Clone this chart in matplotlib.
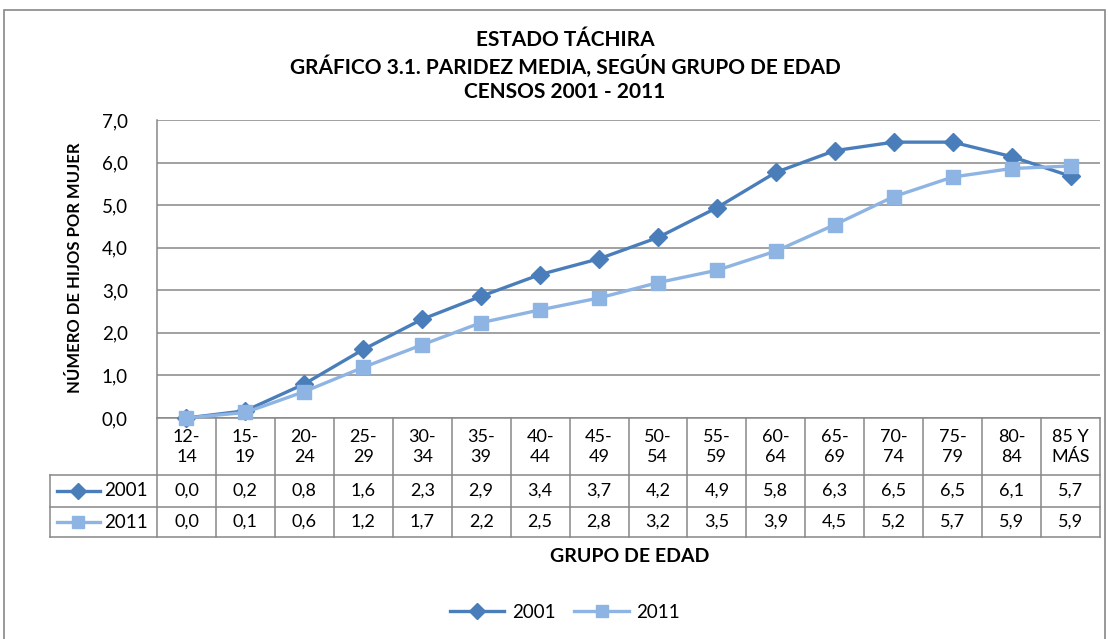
import numpy as np
import matplotlib
matplotlib.use("Agg")
import matplotlib.pyplot as plt
from matplotlib.lines import Line2D
from matplotlib.patches import Rectangle
from matplotlib.transforms import blended_transform_factory

plt.rcParams['font.family'] = ['Lato', 'DejaVu Sans']

grupos = ['12-\n14', '15-\n19', '20-\n24', '25-\n29', '30-\n34', '35-\n39', '40-\n44',
          '45-\n49', '50-\n54', '55-\n59', '60-\n64', '65-\n69', '70-\n74', '75-\n79',
          '80-\n84', '85 Y\nMÁS']
censo_2001 = [0.0, 0.17, 0.80, 1.61, 2.32, 2.86, 3.37, 3.74, 4.24, 4.94, 5.77, 6.28,
              6.48, 6.48, 6.14, 5.68]
censo_2011 = [0.0, 0.13, 0.62, 1.19, 1.72, 2.24, 2.54, 2.82, 3.18, 3.47, 3.92, 4.54,
              5.20, 5.66, 5.86, 5.92]
series = [('2001', censo_2001, '#4a7ebb', 'D', 9), ('2011', censo_2011, '#8eb4e3', 's', 9.5)]
y_ticks = [0, 1, 2, 3, 4, 5, 6, 7]

W, H = 1108, 639
grey = '#888888'


def fx(px):
    return px / W


def fy(py):
    return 1 - py / H


fig = plt.figure(figsize=(W / 100, H / 100), dpi=100)
fig.add_artist(Rectangle((fx(4), fy(645)), fx(1101), 635 / H, transform=fig.transFigure,
                         fill=False, edgecolor=grey, lw=1.2))

ax = fig.add_axes([fx(157), fy(418), fx(943), 298 / H])
x = np.arange(len(grupos))
for name, vals, col, mk, ms in series:
    ax.plot(x, vals, color=col, lw=2.4, marker=mk, markersize=ms, label=name,
            clip_on=False, zorder=3)

ax.set_xlim(-0.5, len(grupos) - 0.5)
ax.set_ylim(0, 7)
ax.set_yticks(y_ticks)
ax.set_yticklabels([('%.1f' % v).replace('.', ',') for v in y_ticks])
ax.tick_params(axis='y', length=0, pad=21, labelsize=13.5)
ax.set_xticks([])
ax.grid(axis='y', color=grey, lw=1.1)
ax.set_axisbelow(True)
for s in ['top', 'right']:
    ax.spines[s].set_visible(False)
for s in ['left', 'bottom']:
    ax.spines[s].set_color(grey)
    ax.spines[s].set_linewidth(1.1)

# tabla de datos bajo el eje
tr = blended_transform_factory(ax.transData, fig.transFigure)
rows_px = [418, 475, 507, 537]
for b in np.arange(len(grupos) + 1) - 0.5:
    fig.add_artist(Line2D([b, b], [fy(418), fy(537)], transform=tr, color=grey, lw=1.1))
for r in rows_px[1:]:
    fig.add_artist(Line2D([fx(50), fx(1100)], [fy(r), fy(r)], transform=fig.transFigure,
                          color=grey, lw=1.1))
fig.add_artist(Line2D([fx(50), fx(50)], [fy(475), fy(537)], transform=fig.transFigure,
                      color=grey, lw=1.1))

for i, g in enumerate(grupos):
    fig.text(i, fy(447), g, transform=tr, ha='center', va='center', fontsize=13,
             linespacing=1.3)

for k, (name, vals, col, mk, ms) in enumerate(series):
    yc = fy((rows_px[k + 1] + rows_px[k + 2]) / 2)
    for i, v in enumerate(vals):
        fig.text(i, yc, ('%.1f' % v).replace('.', ','), transform=tr, ha='center',
                 va='center', fontsize=13)
    fig.add_artist(Line2D([fx(57), fx(100)], [yc, yc], transform=fig.transFigure,
                          color=col, lw=2.4))
    fig.add_artist(Line2D([fx(78)], [yc], transform=fig.transFigure, color=col,
                          marker=mk, markersize=ms * 0.95, lw=0))
    fig.text(fx(104), yc, name, ha='left', va='center', fontsize=13.5)

for t, yy in [('ESTADO TÁCHIRA', 40), ('GRÁFICO 3.1. PARIDEZ MEDIA, SEGÚN GRUPO DE EDAD', 66),
              ('CENSOS 2001 - 2011', 92)]:
    fig.text(fx(565), fy(yy), t, ha='center', va='center', fontsize=15, fontweight='bold')
fig.text(fx(75), fy(268), 'NÚMERO DE HIJOS POR MUJER', ha='center', va='center',
         rotation=90, fontsize=12, fontweight='bold')
fig.text(fx(630), fy(557), 'GRUPO DE EDAD', ha='center', va='center', fontsize=14,
         fontweight='bold')

fig.legend(loc='center', bbox_to_anchor=(fx(565), fy(612)), ncol=2, frameon=False,
           fontsize=13.5, handlelength=2.9, columnspacing=1.0, handletextpad=0.4,
           markerscale=0.95)

fig.savefig('out.png', dpi=100)
